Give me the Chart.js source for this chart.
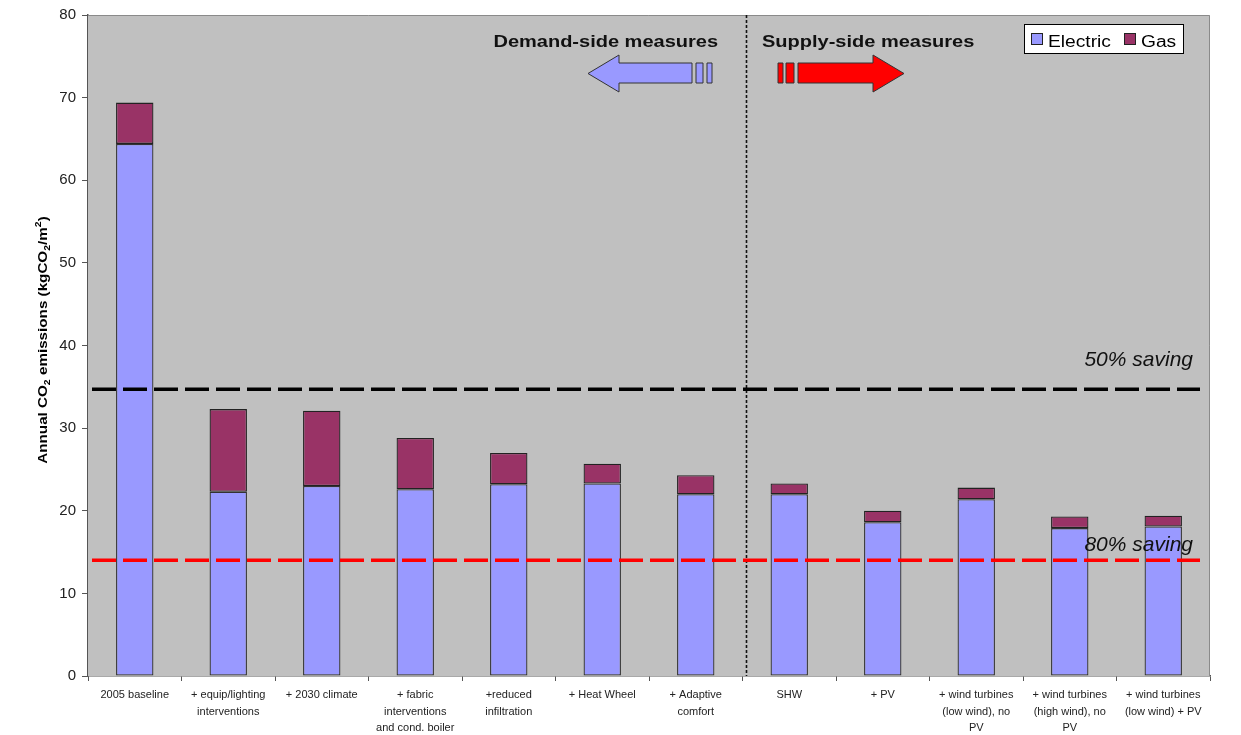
<!DOCTYPE html>
<html>
<head>
<meta charset="utf-8">
<title>Annual CO2 emissions by measure</title>
<script src="https://cdn.jsdelivr.net/npm/chart.js@4.4.1/dist/chart.umd.min.js"></script>
<style>
  html, body { margin: 0; padding: 0; background: #ffffff; }
  #wrap { width: 1241px; height: 735px; position: relative; }
</style>
</head>
<body>
<div id="wrap"><canvas id="chart" width="1241" height="735"></canvas></div>
<script>
// Measures, in the order they are applied
const categories = [
  '2005 baseline',
  ['+ equip/lighting', 'interventions'],
  '+ 2030 climate',
  ['+ fabric', 'interventions', 'and cond. boiler'],
  ['+reduced', 'infiltration'],
  '+ Heat Wheel',
  ['+ Adaptive', 'comfort'],
  'SHW',
  '+ PV',
  ['+ wind turbines', '(low wind), no', 'PV'],
  ['+ wind turbines', '(high wind), no', 'PV'],
  ['+ wind turbines', '(low wind) + PV']
];

// Annual CO2 emissions, kgCO2/m2
const electric = [64.4, 22.3, 23.0, 22.6, 23.2, 23.3, 22.0, 22.0, 18.6, 21.4, 17.9, 18.1];
const gas      = [5.0, 10.0, 9.1, 6.2, 3.8, 2.4, 2.3, 1.3, 1.4, 1.4, 1.4, 1.3];

// Value axis
const yMin = 0;
const yMax = 80;
const yStep = 10;

// Saving targets relative to the 2005 baseline
const savingTargets = [
  { label: '50% saving', value: 34.7 },
  { label: '80% saving', value: 14.0 }
];

// Index of the first supply-side measure
const firstSupplyIndex = 7;

const FONT = '"Liberation Sans", Arial, Helvetica, sans-serif';
Chart.defaults.font.family = FONT;

function stretchedText(ctx, s, x, y, font, sx, align) {
  ctx.save();
  ctx.font = font;
  ctx.translate(x, y);
  ctx.scale(sx, 1);
  ctx.textAlign = align || 'left';
  ctx.textBaseline = 'alphabetic';
  ctx.fillText(s, 0, 0);
  ctx.restore();
}

function polygon(ctx, pts, fill) {
  ctx.beginPath();
  ctx.moveTo(pts[0][0], pts[0][1]);
  for (let i = 1; i < pts.length; i++) ctx.lineTo(pts[i][0], pts[i][1]);
  ctx.closePath();
  ctx.fillStyle = fill;
  ctx.fill();
  ctx.lineWidth = 1;
  ctx.strokeStyle = '#333333';
  ctx.stroke();
}

const plotBackground = {
  id: 'plotBackground',
  beforeDatasetsDraw(chart) {
    const { ctx, chartArea: a } = chart;
    ctx.save();
    ctx.fillStyle = '#C0C0C0';
    ctx.fillRect(a.left, a.top, a.right - a.left, a.bottom - a.top);
    ctx.strokeStyle = '#8a8a8a';
    ctx.lineWidth = 1;
    ctx.beginPath();
    ctx.moveTo(a.left, a.top + 0.5);
    ctx.lineTo(a.right - 0.5, a.top + 0.5);
    ctx.lineTo(a.right - 0.5, a.bottom);
    ctx.stroke();
    ctx.restore();
  }
};

const overlays = {
  id: 'overlays',
  afterDatasetsDraw(chart) {
    const { ctx, chartArea: a } = chart;
    const x = chart.scales.x, y = chart.scales.y;
    ctx.save();

    // Divider between demand-side and supply-side measures
    const xDiv = Math.round((x.getPixelForValue(firstSupplyIndex - 1) + x.getPixelForValue(firstSupplyIndex)) / 2) + 3;
    ctx.strokeStyle = '#111111';
    ctx.lineWidth = 1.6;
    ctx.setLineDash([3, 2]);
    ctx.beginPath();
    ctx.moveTo(xDiv + 0.5, a.top);
    ctx.lineTo(xDiv + 0.5, a.bottom);
    ctx.stroke();

    // Saving target lines
    const colors = ['#000000', '#FF0000'];
    ctx.lineWidth = 3.5;
    ctx.setLineDash([24, 7]);
    savingTargets.forEach((t, i) => {
      const py = y.getPixelForValue(t.value);
      ctx.strokeStyle = colors[i];
      ctx.beginPath();
      ctx.moveTo(a.left + 4, py);
      ctx.lineTo(a.right - 10, py);
      ctx.stroke();
    });
    ctx.setLineDash([]);

    // Target labels
    ctx.fillStyle = '#111111';
    savingTargets.forEach((t) => {
      const py = y.getPixelForValue(t.value);
      const off = t.value > 20 ? -23 : -9;
      stretchedText(ctx, t.label, a.right - 17, py + off, 'italic 21px ' + FONT, 1.0, 'right');
    });

    // Section headers
    stretchedText(ctx, 'Demand-side measures', xDiv - 28, 47, 'bold 16px ' + FONT, 1.25, 'right');
    stretchedText(ctx, 'Supply-side measures', xDiv + 16, 47, 'bold 16px ' + FONT, 1.25, 'left');

    // Direction arrows
    const yTop = 55, yBot = 92, bTop = 63, bBot = 83, yMid = 73.5;
    polygon(ctx, [[588, yMid], [619, yTop], [619, bTop], [692, bTop], [692, bBot], [619, bBot], [619, yBot]], '#9999FF');
    polygon(ctx, [[696, bTop], [703, bTop], [703, bBot], [696, bBot]], '#9999FF');
    polygon(ctx, [[707, bTop], [712, bTop], [712, bBot], [707, bBot]], '#9999FF');
    polygon(ctx, [[904, yMid], [873, yTop], [873, bTop], [798, bTop], [798, bBot], [873, bBot], [873, yBot]], '#FF0000');
    polygon(ctx, [[786, bTop], [794, bTop], [794, bBot], [786, bBot]], '#FF0000');
    polygon(ctx, [[778, bTop], [783, bTop], [783, bBot], [778, bBot]], '#FF0000');

    // Legend
    ctx.fillStyle = '#ffffff';
    ctx.fillRect(1024, 24, 159, 29);
    ctx.strokeStyle = '#000000';
    ctx.lineWidth = 1;
    ctx.strokeRect(1024.5, 24.5, 159, 29);
    const items = [
      { text: 'Electric', color: '#9999FF', sx: 1031, tx: 1048 },
      { text: 'Gas', color: '#993366', sx: 1124, tx: 1141 }
    ];
    items.forEach((it) => {
      ctx.fillStyle = it.color;
      ctx.fillRect(it.sx, 33, 12, 12);
      ctx.strokeStyle = '#222222';
      ctx.strokeRect(it.sx + 0.5, 33.5, 11, 11);
      ctx.fillStyle = '#000000';
      stretchedText(ctx, it.text, it.tx, 46.5, '16px ' + FONT, 1.2, 'left');
    });

    // Value axis title with sub/superscripts
    const parts = [
      ['Annual CO', 0], ['2', 1], [' emissions (kgCO', 0], ['2', 1], ['/m', 0], ['2', -1], [')', 0]
    ];
    const mainFont = 'bold 13px ' + FONT, smallFont = 'bold 9px ' + FONT;
    let total = 0;
    parts.forEach((p) => { ctx.font = p[1] ? smallFont : mainFont; total += ctx.measureText(p[0]).width; });
    ctx.translate(47, 340);
    ctx.rotate(-Math.PI / 2);
    ctx.scale(1.17, 1);
    ctx.fillStyle = '#000000';
    ctx.textAlign = 'left';
    ctx.textBaseline = 'alphabetic';
    let cx = -total / 2;
    parts.forEach((p) => {
      ctx.font = p[1] ? smallFont : mainFont;
      const dy = p[1] === 1 ? 3 : (p[1] === -1 ? -6 : 0);
      ctx.fillText(p[0], cx, dy);
      cx += ctx.measureText(p[0]).width;
    });

    ctx.restore();
  }
};

new Chart(document.getElementById('chart'), {
  type: 'bar',
  data: {
    labels: categories,
    datasets: [
      {
        label: 'Electric',
        data: electric,
        backgroundColor: '#9999FF',
        borderColor: '#333333',
        borderWidth: 1.3,
        borderSkipped: false
      },
      {
        label: 'Gas',
        data: gas,
        backgroundColor: '#993366',
        borderColor: '#222222',
        borderWidth: 1.3,
        borderSkipped: false
      }
    ]
  },
  options: {
    responsive: false,
    animation: false,
    layout: { padding: { top: 15, right: 31, left: 0, bottom: 0 } },
    datasets: { bar: { categoryPercentage: 1.0, barPercentage: 0.4 } },
    plugins: {
      legend: { display: false },
      tooltip: { enabled: false }
    },
    scales: {
      x: {
        stacked: true,
        afterFit(scale) { scale.height = 59; },
        grid: { drawOnChartArea: false, drawTicks: true, tickLength: 5, color: '#555555', offset: true },
        border: { color: '#555555', width: 1.5 },
        ticks: {
          autoSkip: false,
          maxRotation: 0,
          minRotation: 0,
          padding: 6,
          color: '#222222',
          font: { size: 11, lineHeight: 1.5 }
        }
      },
      y: {
        stacked: true,
        min: yMin,
        max: yMax,
        afterFit(scale) { scale.width = 88; },
        grid: { drawOnChartArea: false, drawTicks: true, tickLength: 6, color: '#555555' },
        border: { color: '#555555', width: 1.5 },
        ticks: {
          stepSize: yStep,
          padding: 6,
          color: '#222222',
          font: { size: 15 }
        }
      }
    }
  },
  plugins: [plotBackground, overlays]
});
</script>
</body>
</html>
